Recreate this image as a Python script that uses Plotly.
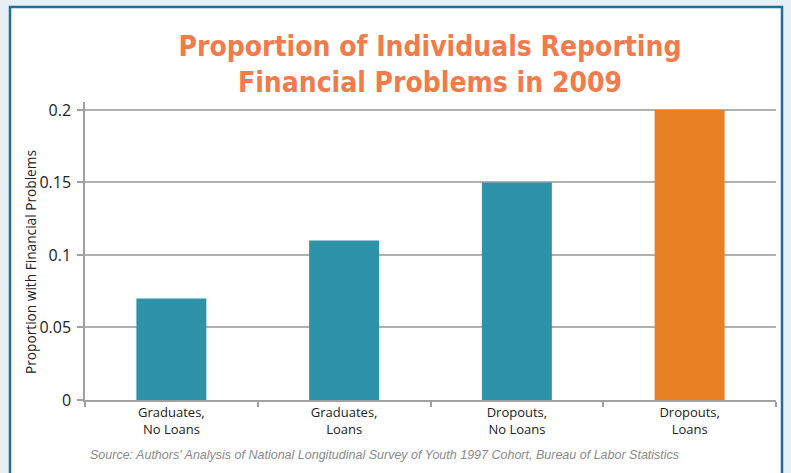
import plotly.graph_objects as go

categories = ["Graduates,<br>No Loans", "Graduates,<br>Loans", "Dropouts,<br>No Loans", "Dropouts,<br>Loans"]
values = [0.07, 0.11, 0.15, 0.2]
bar_colors = ["#2e93a9", "#2e93a9", "#2e93a9", "#e98024"]
y_tickvals = [0, 0.05, 0.1, 0.15, 0.2]
y_ticktext = ["0", "0.05", "0.1", "0.15", "0.2"]
title_text = "Proportion of Individuals Reporting<br>Financial Problems in 2009"
y_title = "Proportion with Financial Problems"
source_text = "Source: Authors' Analysis of National Longitudinal Survey of Youth 1997 Cohort, Bureau of Labor Statistics"

fig = go.Figure()
fig.add_trace(go.Bar(x=categories, y=values, marker=dict(color=bar_colors, line=dict(width=0)),
                     width=0.405, hoverinfo="x+y"))

fig.update_layout(
    width=791, height=473,
    margin=dict(l=85, r=15, t=102, b=73),
    paper_bgcolor="#e6eff4",
    plot_bgcolor="white",
    showlegend=False,
    font=dict(family="Open Sans", color="#222222"),
    title=dict(text=title_text, x=(430 - 85) / 691, xref="paper", xanchor="center", y=0.882, yanchor="top",
               font=dict(family="DejaVu Sans Condensed, Roboto", size=28, color="#f27b4b", weight="bold")),
    shapes=[dict(type="rect", xref="paper", yref="paper", x0=-75/691, x1=(782-85)/691,
                 y0=-0.5, y1=(400-7)/298, fillcolor="white", line=dict(color="#1f6e9b", width=2.5),
                 layer="below")],
    annotations=[
        dict(text=source_text, xref="paper", yref="paper", x=(384-85)/691, y=-(455-400)/298,
             xanchor="center", yanchor="middle", showarrow=False,
             font=dict(family="Liberation Sans", size=12.5, color="#8a8a8a", style="italic")),
        dict(text=y_title, xref="paper", yref="paper", x=(30-85)/691, y=(400-262)/298,
             xanchor="center", yanchor="middle", textangle=-90, showarrow=False,
             font=dict(family="Open Sans", size=13.7, color="#222222")),
    ],
)
fig.update_xaxes(type="category", tickson="boundaries", ticks="outside", ticklen=5, tickcolor="#a0a0a0",
                 tickwidth=1.5, showline=True, linecolor="#a0a0a0", linewidth=1.5, showgrid=False,
                 tickfont=dict(family="Open Sans", size=13, color="#222222"), range=[-0.5, 3.5])
fig.update_yaxes(range=[0, 0.2055], tickvals=y_tickvals, ticktext=y_ticktext, ticks="outside", ticklen=6,
                 tickcolor="#a0a0a0", tickwidth=1.5, showline=True, linecolor="#a0a0a0", linewidth=1.5,
                 showgrid=True, gridcolor="#b0b0b0", gridwidth=1.5, zeroline=False,
                 ticklabelstandoff=3,
                 tickfont=dict(family="Open Sans", size=16, color="#222222"))

fig.write_html("out.html", config={"displayModeBar": False},
               post_script="document.body.style.margin='0';")
